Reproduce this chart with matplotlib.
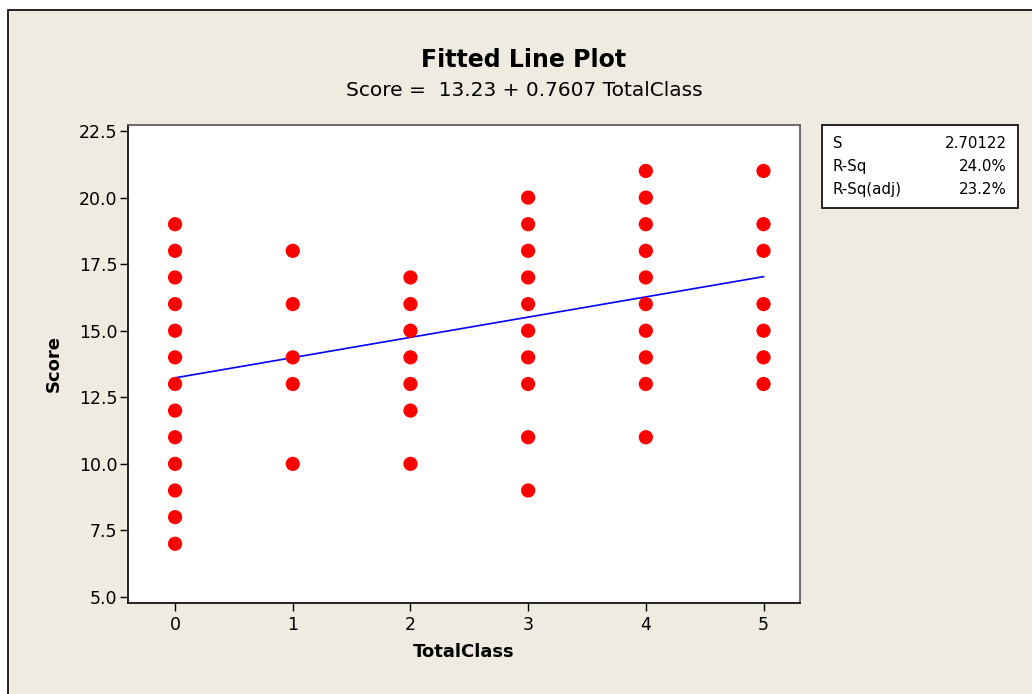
import matplotlib.pyplot as plt
from matplotlib.patches import Rectangle

# data (duplicates overlap in the original)
x0 = [0] * 13
y0 = [19, 18, 17, 16, 15, 14, 13, 12, 11, 10, 9, 8, 7]
x1 = [1] * 5
y1 = [18, 16, 14, 13, 10]
x2 = [2] * 7
y2 = [17, 16, 15, 14, 13, 12, 10]
x3 = [3] * 10
y3 = [20, 19, 18, 17, 16, 15, 14, 13, 11, 9]
x4 = [4] * 10
y4 = [21, 20, 19, 18, 17, 16, 15, 14, 13, 11]
x5 = [5] * 7
y5 = [21, 19, 18, 16, 15, 14, 13]

fit_x = [0, 5]
fit_y = [13.23, 17.03]

stat_names = ['S', 'R-Sq', 'R-Sq(adj)']
stat_vals = ['2.70122', '24.0%', '23.2%']

xticks = [0, 1, 2, 3, 4, 5]
yticks = [5.0, 7.5, 10.0, 12.5, 15.0, 17.5, 20.0, 22.5]

bg = '#efebe1'
plt.rcParams['font.family'] = 'DejaVu Sans'

fig = plt.figure(figsize=(10.32, 6.94), dpi=100, facecolor='white')
fig.patches.append(Rectangle((8 / 1032, -0.01), 1.0, 1 - 10 / 694 + 0.01,
                             transform=fig.transFigure, facecolor=bg,
                             edgecolor='black', linewidth=1.2, zorder=-5))

ax = fig.add_axes([128 / 1032, 1 - 603 / 694, 672 / 1032, 478 / 694])
ax.set_facecolor('white')

xs = x0 + x1 + x2 + x3 + x4 + x5
ys = y0 + y1 + y2 + y3 + y4 + y5
ax.scatter(xs, ys, s=105, color='#ff0000', edgecolors='none', zorder=3)
ax.plot(fit_x, fit_y, color='#0000ff', linewidth=1.2, zorder=2)

ax.set_xlim(-0.40, 5.31)
ax.set_ylim(4.775, 22.725)
ax.set_xticks(xticks)
ax.set_yticks(yticks)
ax.set_yticklabels([f'{v:.1f}' for v in yticks])
ax.tick_params(direction='out', length=6, width=1, labelsize=12.5, colors='black')
ax.tick_params(axis='y', pad=1.5)
for sp in ax.spines.values():
    sp.set_linewidth(1.2)
ax.spines['top'].set_color('#555555')
ax.spines['right'].set_color('#555555')

ax.set_xlabel('TotalClass', fontsize=13, fontweight='bold', labelpad=6)
ax.set_ylabel('Score', fontsize=13, fontweight='bold', labelpad=12)

fig.text(524 / 1032, 1 - 60 / 694, 'Fitted Line Plot', ha='center', va='center',
         fontsize=17, fontweight='bold')
fig.text(524 / 1032, 1 - 90 / 694, 'Score =  13.23 + 0.7607 TotalClass',
         ha='center', va='center', fontsize=14.5)

# stats box
fig.patches.append(Rectangle((822 / 1032, 1 - 208 / 694), 196 / 1032, 83 / 694,
                             transform=fig.transFigure, facecolor='white',
                             edgecolor='black', linewidth=1.2, zorder=1))
for i, (n, v) in enumerate(zip(stat_names, stat_vals)):
    yy = 1 - (143 + i * 23.5) / 694
    fig.text(833 / 1032, yy, n, ha='left', va='center', fontsize=10.8, zorder=2)
    fig.text(1007 / 1032, yy, v, ha='right', va='center', fontsize=10.8, zorder=2)

fig.savefig('out.png', dpi=100, facecolor=fig.get_facecolor())
